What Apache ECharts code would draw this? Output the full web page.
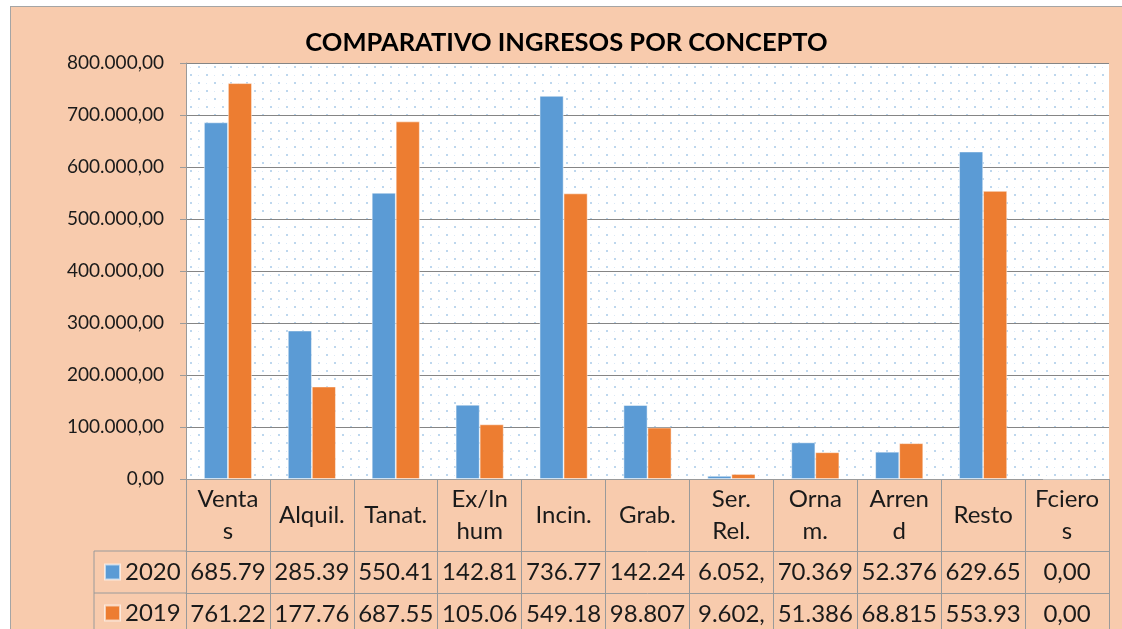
<!DOCTYPE html>
<html>
<head>
<meta charset="utf-8">
<script src="https://cdn.jsdelivr.net/npm/echarts@6/dist/echarts.min.js"></script>
<style>
  html, body { margin: 0; padding: 0; background: #fff; overflow: hidden; }
  #chart {
    position: absolute; left: 10px; top: 6px;
    width: 1111px; height: 622px;
    background: #F8CBAD;
    border-left: 1px solid #A5A5A5; border-top: 1px solid #A5A5A5;
  }
</style>
</head>
<body>
<div id="chart"></div>
<script>
const categories = ['Ventas', 'Alquil.', 'Tanat.', 'Ex/Inhum', 'Incin.', 'Grab.', 'Ser. Rel.', 'Ornam.', 'Arrend', 'Resto', 'Fcieros']
const headerLabels = ['Venta\ns', 'Alquil.', 'Tanat.', 'Ex/In\nhum', 'Incin.', 'Grab.', 'Ser.\nRel.', 'Orna\nm.', 'Arren\nd', 'Resto', 'Fciero\ns']
const values2020 = [685790, 285390, 550410, 142810, 736770, 142240, 6052, 70369, 52376, 629650, 0]
const values2019 = [761220, 177760, 687550, 105060, 549180, 98807, 9602, 51386, 68815, 553930, 0]
const yTicks = { min: 0, max: 800000, interval: 100000 }

// 1234567.5 -> "1.234.567,50"
function fmt(v) {
  let parts = v.toFixed(2).split('.')
  return parts[0].replace(/\B(?=(\d{3})+(?!\d))/g, '.') + ',' + parts[1]
}
// the data table cells are too narrow, Excel cuts the text
function cell(v) {
  return fmt(v).slice(0, 6)
}

// dotted plot background
function dotPattern() {
  const c = document.createElement('canvas')
  c.width = 16
  c.height = 16
  const ctx = c.getContext('2d')
  ctx.fillStyle = '#ffffff'
  ctx.fillRect(0, 0, 16, 16)
  ctx.fillStyle = 'rgba(91,155,213,0.4)'
  ctx.fillRect(3, 3, 2, 2)
  ctx.fillRect(11, 11, 2, 2)
  ctx.fillStyle = 'rgba(91,155,213,0.22)'
  ctx.fillRect(11, 4, 1, 1)
  ctx.fillRect(3, 12, 1, 1)
  return c
}

const FONT = 'Lato'
const lineColor = '#9A9A9A'
const textColor = '#1a1a1a'

function tableRow(offset, labels, tickLen) {
  return {
    type: 'category',
    gridIndex: 0,
    position: 'bottom',
    offset: offset,
    data: categories,
    axisLine: { show: true, lineStyle: { color: lineColor, width: 1 } },
    axisTick: { show: true, length: tickLen, interval: 0, lineStyle: { color: lineColor } },
    axisLabel: {
      interval: 0,
      margin: 21,
      verticalAlign: 'middle',
      fontFamily: FONT,
      fontSize: 24,
      color: textColor,
      formatter: (v, i) => labels[i]
    },
    splitLine: { show: false }
  }
}

const chart = echarts.init(document.getElementById('chart'))

chart.setOption({
  animation: false,
  backgroundColor: 'transparent',
  title: {
    text: 'COMPARATIVO INGRESOS POR CONCEPTO',
    left: 'center',
    top: 18,
    padding: [5, 5, 5, 22],
    textStyle: { fontFamily: FONT, fontWeight: 'bold', fontSize: 25.5, color: '#000' }
  },
  legend: {
    data: ['2020', '2019'],
    orient: 'vertical',
    left: 93,
    top: 552,
    padding: 0,
    itemWidth: 15,
    itemHeight: 15,
    itemGap: 15,
    icon: 'rect',
    textStyle: { fontFamily: FONT, fontSize: 24, color: textColor, lineHeight: 26 }
  },
  grid: {
    left: 175,
    top: 56,
    width: 923,
    height: 416,
    show: true,
    borderWidth: 0,
    backgroundColor: { image: dotPattern(), repeat: 'repeat' }
  },
  xAxis: [
    {
      type: 'category',
      data: categories,
      axisLine: { show: true, lineStyle: { color: lineColor, width: 1 } },
      axisTick: { show: true, length: 72, interval: 0, lineStyle: { color: lineColor } },
      axisLabel: {
        interval: 0,
        margin: 36,
        verticalAlign: 'middle',
        lineHeight: 32,
        fontFamily: FONT,
        fontSize: 24,
        color: textColor,
        formatter: (v, i) => headerLabels[i]
      }
    },
    tableRow(72, values2020.map(cell), 42),
    tableRow(114, values2019.map(cell), 42)
  ],
  yAxis: {
    type: 'value',
    min: yTicks.min,
    max: yTicks.max,
    interval: yTicks.interval,
    axisLine: { show: true, lineStyle: { color: lineColor } },
    axisTick: { show: true, length: 6, lineStyle: { color: lineColor } },
    axisLabel: { fontFamily: FONT, fontSize: 19, color: textColor, margin: 22, formatter: fmt },
    splitLine: { show: true, lineStyle: { color: '#858585', width: 1 } }
  },
  graphic: [
    // borders of the legend column of the data table
    { type: 'line', shape: { x1: 83, y1: 544, x2: 83, y2: 640 }, style: { stroke: lineColor, lineWidth: 1 } },
    { type: 'line', shape: { x1: 83, y1: 544, x2: 175, y2: 544 }, style: { stroke: lineColor, lineWidth: 1 } },
    { type: 'line', shape: { x1: 83, y1: 586, x2: 175, y2: 586 }, style: { stroke: lineColor, lineWidth: 1 } }
  ],
  series: [
    {
      name: '2020',
      type: 'bar',
      data: values2020,
      barWidth: 24,
      barGap: '0%',
      itemStyle: { color: '#5B9BD5', borderColor: 'rgba(255,255,255,0.6)', borderWidth: 0.8 }
    },
    {
      name: '2019',
      type: 'bar',
      data: values2019,
      barWidth: 24,
      barGap: '0%',
      itemStyle: { color: '#ED7D31', borderColor: 'rgba(255,255,255,0.6)', borderWidth: 0.8 }
    }
  ]
})
</script>
</body>
</html>
